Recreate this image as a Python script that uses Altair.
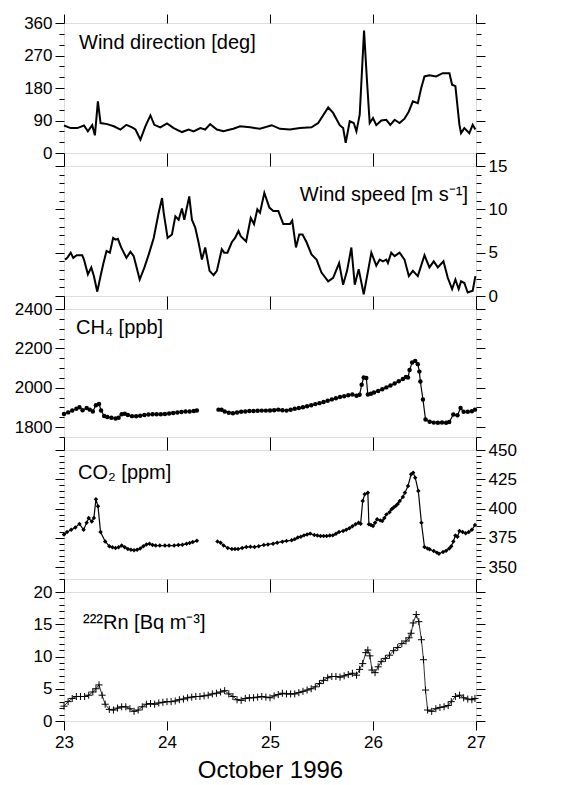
import altair as alt
import pandas as pd

# ---------------- data ----------------
wd_day = [23.000, 23.065, 23.129, 23.194, 23.232, 23.274, 23.300, 23.329, 23.355, 23.419, 23.484, 23.548,
          23.606, 23.661, 23.694, 23.742, 23.790, 23.839, 23.877, 23.935, 24.000, 24.065, 24.145, 24.210,
          24.258, 24.323, 24.371, 24.419, 24.484, 24.548, 24.613, 24.645, 24.710, 24.806, 24.903, 25.016,
          25.097, 25.194, 25.290, 25.403, 25.468, 25.565, 25.613, 25.677, 25.710, 25.735, 25.774, 25.813,
          25.839, 25.871, 25.913, 25.942, 25.968, 26.000, 26.032, 26.081, 26.129, 26.168, 26.210, 26.258,
          26.306, 26.348, 26.387, 26.435, 26.468, 26.500, 26.548, 26.613, 26.677, 26.742, 26.768, 26.800,
          26.839, 26.855, 26.887, 26.935, 26.968, 26.994]
wd_val = [76, 69, 69, 76, 60, 77, 49, 143, 83, 80, 74, 65,
          78, 71, 65, 37, 74, 104, 78, 71, 82, 69, 58, 65,
          60, 69, 65, 80, 65, 60, 65, 67, 74, 71, 67, 77,
          67, 65, 69, 71, 83, 126, 111, 77, 69, 28, 88, 83,
          60, 106, 339, 198, 83, 97, 77, 90, 92, 78, 92, 83,
          95, 115, 143, 138, 180, 212, 215, 212, 221, 221, 189, 185,
          78, 55, 69, 55, 78, 65]

ws_day = [23.010, 23.032, 23.065, 23.090, 23.123, 23.177, 23.194, 23.232, 23.265, 23.290, 23.323, 23.355,
          23.381, 23.413, 23.445, 23.477, 23.500, 23.523, 23.555, 23.606, 23.645, 23.677, 23.735, 23.781,
          23.823, 23.871, 23.919, 23.952, 23.968, 24.006, 24.048, 24.081, 24.113, 24.145, 24.168, 24.216,
          24.242, 24.274, 24.306, 24.339, 24.371, 24.413, 24.452, 24.484, 24.532, 24.555, 24.587, 24.629,
          24.661, 24.694, 24.716, 24.768, 24.813, 24.845, 24.877, 24.903, 24.945, 24.994, 25.032, 25.081,
          25.129, 25.194, 25.216, 25.252, 25.284, 25.316, 25.355, 25.403, 25.452, 25.500, 25.565, 25.613,
          25.671, 25.710, 25.748, 25.790, 25.823, 25.861, 25.910, 25.952, 25.984, 26.032, 26.065, 26.097,
          26.129, 26.145, 26.177, 26.210, 26.258, 26.306, 26.348, 26.387, 26.435, 26.500, 26.548, 26.590,
          26.629, 26.684, 26.726, 26.768, 26.800, 26.832, 26.855, 26.887, 26.919, 26.968, 26.994]
ws_val = [4.2, 4.4, 5.0, 4.4, 4.7, 4.7, 4.2, 2.5, 3.3, 2.3, 0.5, 2.3,
          3.7, 5.2, 5.0, 6.7, 6.5, 6.6, 5.6, 4.4, 5.1, 4.6, 1.9, 3.3,
          4.8, 6.7, 9.6, 11.3, 9.6, 6.7, 7.1, 9.2, 8.8, 10.1, 8.8, 11.5,
          8.8, 7.9, 6.2, 4.2, 5.6, 2.9, 2.4, 2.9, 5.4, 5.0, 5.0, 6.2,
          6.7, 7.5, 6.9, 6.3, 9.0, 8.3, 10.0, 9.6, 11.9, 10.2, 9.8, 9.8,
          8.3, 8.3, 8.7, 5.6, 7.1, 7.1, 6.2, 4.8, 4.2, 2.7, 1.7, 2.1,
          3.8, 1.3, 2.9, 5.6, 1.3, 3.1, 0.2, 2.9, 5.0, 3.5, 4.2, 4.0,
          4.2, 3.8, 5.0, 4.6, 5.0, 4.2, 2.3, 2.9, 2.3, 4.7, 3.3, 4.0,
          3.3, 4.0, 2.1, 0.8, 1.9, 0.8, 1.7, 1.5, 0.4, 0.6, 2.3]

ch4_day_a = [23.00, 23.04, 23.08, 23.12, 23.15, 23.18, 23.22, 23.25, 23.28, 23.31, 23.34, 23.36, 23.39,
             23.42, 23.46, 23.50, 23.53, 23.56, 23.59, 23.62, 23.66, 23.70, 23.74, 23.78, 23.82, 23.86,
             23.90, 23.94, 23.98, 24.02, 24.06, 24.10, 24.14, 24.18, 24.22, 24.26, 24.29]
ch4_val_a = [1867, 1875, 1885, 1893, 1901, 1886, 1897, 1889, 1880, 1911, 1918, 1885, 1857,
             1852, 1848, 1844, 1848, 1866, 1868, 1862, 1856, 1855, 1858, 1862, 1864, 1866,
             1866, 1865, 1867, 1869, 1872, 1874, 1877, 1879, 1880, 1882, 1885]
ch4_day_b = [24.50, 24.53, 24.56, 24.60, 24.64, 24.68, 24.72, 24.76, 24.80, 24.84, 24.88, 24.92, 24.96,
             25.00, 25.04, 25.08, 25.12, 25.16, 25.20, 25.24, 25.28, 25.32, 25.36, 25.40, 25.44, 25.48,
             25.52, 25.56, 25.60, 25.64, 25.68, 25.72, 25.76, 25.80, 25.84, 25.87, 25.89, 25.91, 25.935,
             25.95, 25.98, 26.01, 26.05, 26.09, 26.13, 26.17, 26.21, 26.25, 26.29, 26.32, 26.34, 26.355,
             26.38, 26.41, 26.435, 26.45, 26.46, 26.485, 26.51, 26.55, 26.59, 26.63, 26.67, 26.71, 26.74,
             26.78, 26.82, 26.85, 26.88, 26.92, 26.96, 26.99]
ch4_val_b = [1889, 1888, 1880, 1873, 1871, 1874, 1878, 1880, 1882, 1882, 1883, 1884, 1884,
             1885, 1886, 1889, 1886, 1884, 1888, 1893, 1897, 1901, 1906, 1911, 1917, 1922,
             1928, 1934, 1941, 1947, 1953, 1957, 1962, 1966, 1960, 1965, 2015, 2052, 2050,
             1966, 1970, 1976, 1984, 1993, 2002, 2012, 2022, 2033, 2045, 2055, 2052, 2090,
             2128, 2136, 2120, 2082, 2032, 1940, 1839, 1827, 1823, 1822, 1824, 1822, 1826,
             1864, 1860, 1897, 1878, 1878, 1881, 1889]

co2_day_a = [23.00, 23.03, 23.07, 23.11, 23.15, 23.19, 23.22, 23.24, 23.27, 23.29, 23.31, 23.33, 23.355,
             23.40, 23.44, 23.47, 23.50, 23.53, 23.56, 23.59, 23.62, 23.65, 23.68, 23.71, 23.74, 23.77,
             23.80, 23.83, 23.86, 23.89, 23.93, 23.98, 24.02, 24.07, 24.11, 24.15, 24.19, 24.22, 24.25, 24.29]
co2_val_a = [378, 380, 382, 384, 387, 382, 388, 392, 389, 392, 408, 402, 380,
             372, 368, 367, 366.5, 367, 368.5, 367, 365.6, 365, 364.5, 365, 366, 368,
             369.5, 370, 369, 368.5, 368.5, 368.5, 368.5, 368.5, 369, 369.3, 370, 370.7, 371.5, 372.7]
co2_day_b = [24.49, 24.52, 24.55, 24.59, 24.63, 24.66, 24.69, 24.73, 24.77, 24.81, 24.85, 24.89, 24.94,
             24.98, 25.03, 25.07, 25.12, 25.16, 25.21, 25.24, 25.27, 25.30, 25.33, 25.36, 25.39, 25.43,
             25.46, 25.49, 25.52, 25.55, 25.58, 25.61, 25.64, 25.67, 25.71, 25.74, 25.77, 25.80, 25.83,
             25.86, 25.88, 25.90, 25.92, 25.95, 25.96, 25.98, 26.00, 26.02, 26.04, 26.07, 26.09, 26.11,
             26.13, 26.16, 26.18, 26.20, 26.22, 26.24, 26.26, 26.29, 26.31, 26.34, 26.37, 26.39, 26.41,
             26.44, 26.47, 26.50, 26.53, 26.55, 26.59, 26.62, 26.64, 26.68, 26.71, 26.74, 26.76, 26.78,
             26.80, 26.82, 26.84, 26.87, 26.90, 26.93, 26.96, 26.99]
co2_val_b = [372, 371, 368.5, 366.5, 365.6, 365.5, 365.6, 366.5, 367.3, 367.5, 367.3, 368, 369,
             369.5, 370.1, 371, 371.8, 372.5, 373, 374, 375.3, 376, 377.2, 378, 378.7, 377.5,
             377, 376.7, 376.7, 376.7, 377, 377.2, 378.5, 380.1, 380.9, 382, 383.2, 385, 386.6,
             388, 387.2, 406.5, 412.2, 413.6, 386.6, 386, 385.2, 388, 390.9, 390, 389.5, 392,
             395.1, 397, 399.4, 401, 402.3, 404, 406.5, 410, 413.6, 419.3, 429.3, 430.7, 426.4,
             415, 388, 367.3, 366, 365.3, 363.9, 362.5, 361.6, 363, 364, 366, 368, 372,
             377, 376, 381, 380, 379, 380, 382, 386]

rn_day = [23.00, 23.04, 23.08, 23.12, 23.16, 23.20, 23.24, 23.28, 23.31, 23.34, 23.37, 23.40, 23.44,
          23.48, 23.52, 23.56, 23.60, 23.64, 23.68, 23.72, 23.76, 23.80, 23.84, 23.88, 23.92, 23.96,
          24.00, 24.04, 24.08, 24.12, 24.16, 24.20, 24.24, 24.28, 24.32, 24.36, 24.40, 24.44, 24.48,
          24.52, 24.56, 24.60, 24.64, 24.68, 24.72, 24.76, 24.80, 24.84, 24.88, 24.92, 24.96, 25.00,
          25.04, 25.08, 25.12, 25.16, 25.20, 25.24, 25.28, 25.32, 25.36, 25.40, 25.44, 25.48, 25.52,
          25.56, 25.60, 25.64, 25.68, 25.72, 25.76, 25.80, 25.84, 25.87, 25.90, 25.93, 25.95, 25.97,
          25.99, 26.02, 26.05, 26.08, 26.12, 26.16, 26.20, 26.24, 26.28, 26.32, 26.35, 26.37, 26.39,
          26.42, 26.445, 26.47, 26.49, 26.51, 26.53, 26.57, 26.61, 26.65, 26.69, 26.73, 26.76, 26.80,
          26.84, 26.88, 26.92, 26.96, 26.99]
rn_val = [2.3, 3.0, 3.5, 3.8, 3.8, 3.8, 4.0, 4.5, 5.0, 5.6, 4.0, 2.6, 1.8,
          1.7, 2.0, 2.2, 2.2, 1.9, 1.5, 1.7, 2.2, 2.6, 2.7, 2.6, 2.8, 2.9,
          3.0, 3.0, 3.1, 3.3, 3.4, 3.6, 3.7, 3.8, 3.8, 3.9, 4.0, 4.2, 4.3,
          4.5, 4.7, 4.2, 3.8, 3.3, 3.2, 3.5, 3.6, 3.6, 3.7, 3.8, 3.7, 3.6,
          3.9, 4.1, 4.3, 4.2, 4.2, 4.2, 4.4, 4.6, 4.8, 5.0, 5.3, 5.8, 6.3,
          6.7, 6.9, 6.9, 6.8, 7.0, 7.2, 7.4, 7.1, 8.0, 8.9, 10.6, 11.0, 10.1,
          7.9, 7.5, 8.4, 9.2, 9.7, 10.2, 10.9, 11.4, 12.0, 12.4, 12.9, 13.6, 15.2,
          16.5, 15.4, 12.6, 9.5, 4.8, 1.7, 1.5, 1.9, 2.1, 2.2, 2.4, 3.0, 3.8,
          4.0, 3.6, 3.4, 3.3, 3.5]

x_ticks = [23 + 0.25 * i for i in range(17)]

# ---------------- styling ----------------
FONT = "Liberation Sans"
W = 412
LBL = 17


def cond_size(test):
    return {"condition": {"test": test, "value": 9}, "value": 5}


def x_axis(orient, labels=False, title=None):
    kw = dict(orient=orient, values=x_ticks, domain=False, grid=False,
              tickSize=cond_size("datum.value % 1 === 0"), tickColor="black",
              labels=labels, labelFlush=False, labelOverlap=False,
              labelExpr="datum.value % 1 === 0 ? datum.label : ''",
              labelFont=FONT, labelFontSize=LBL, labelColor="black", labelPadding=4,
              format="d")
    if title:
        kw.update(title=title, titleFont=FONT, titleFontSize=24, titleFontWeight="normal",
                  titleColor="black", titlePadding=8)
    else:
        kw.update(title=None)
    return alt.Axis(**kw)


def y_axis(orient, vals, major, labels):
    return alt.Axis(orient=orient, values=vals, domain=False, grid=False, title=None,
                    tickSize=cond_size(f"datum.value % {major} === 0"), tickColor="black",
                    labels=labels, labelFlush=False, labelOverlap=False,
                    labelExpr=f"datum.value % {major} === 0 ? datum.label : ''",
                    labelFont=FONT, labelFontSize=LBL, labelColor="black", labelPadding=3,
                    format="d")


def panel(df, dom, minor, major, label_side, height, marks, note, note_x, note_y,
          note_align="left", bottom_title=None, bottom_labels=False):
    vals = []
    v = dom[0] - (dom[0] % minor)
    while v <= dom[1] + 1e-9:
        if v >= dom[0] - 1e-9:
            vals.append(round(v, 6))
        v += minor
    xs = alt.Scale(domain=[23, 27], nice=False, zero=False)
    ys = alt.Scale(domain=dom, nice=False, zero=False)
    layers = []
    first = True
    for m in marks:
        if first:
            enc = dict(
                x=alt.X("day:Q", scale=xs, axis=x_axis("bottom", bottom_labels, bottom_title)),
                y=alt.Y("val:Q", scale=ys, axis=y_axis("left", vals, major, label_side == "left")),
            )
            first = False
        else:
            enc = dict(x=alt.X("day:Q", scale=xs, axis=None),
                       y=alt.Y("val:Q", scale=ys, axis=None))
        if "seg" in df.columns:
            enc["detail"] = alt.Detail("seg:N")
        layers.append(m.encode(**enc))
    # second axes (top, right)
    layers.append(
        alt.Chart(df).mark_point(opacity=0).encode(
            x=alt.X("day:Q", scale=xs, axis=x_axis("top")),
            y=alt.Y("val:Q", scale=ys, axis=y_axis("right", vals, major, label_side == "right")),
        )
    )
    txt = alt.Chart(pd.DataFrame({"t": [note]})).mark_text(
        font=FONT, fontSize=20, align=note_align, baseline="middle", color="black"
    ).encode(text="t:N", x=alt.value(note_x), y=alt.value(note_y))
    layers.append(txt)
    return alt.layer(*layers).resolve_scale(x="independent", y="independent").properties(
        width=W, height=height)


wd = pd.DataFrame({"day": wd_day, "val": wd_val})
ws = pd.DataFrame({"day": ws_day, "val": ws_val})
ch4 = pd.DataFrame({"day": ch4_day_a + ch4_day_b, "val": ch4_val_a + ch4_val_b,
                    "seg": ["a"] * len(ch4_day_a) + ["b"] * len(ch4_day_b)})
co2 = pd.DataFrame({"day": co2_day_a + co2_day_b, "val": co2_val_a + co2_val_b,
                    "seg": ["a"] * len(co2_day_a) + ["b"] * len(co2_day_b)})
rn = pd.DataFrame({"day": rn_day, "val": rn_val})

p1 = panel(wd, [0, 360], 30, 90, "left", 130,
           [alt.Chart(wd).mark_line(color="black", strokeWidth=2)],
           "Wind direction [deg]", 15, 20)
p2 = panel(ws, [0, 15], 1, 5, "right", 130,
           [alt.Chart(ws).mark_line(color="black", strokeWidth=2)],
           "Wind speed [m s\u207b\u00b9]", 404, 29, note_align="right")
p3 = panel(ch4, [1750, 2400], 50, 200, "left", 128,
           [alt.Chart(ch4).mark_line(color="black", strokeWidth=1.2),
            alt.Chart(ch4).mark_point(color="black", filled=True, opacity=1, size=20, shape="circle")],
           "CH\u2084 [ppb]", 12, 19)
p4 = panel(co2, [340, 450], 5, 25, "right", 129,
           [alt.Chart(co2).mark_line(color="black", strokeWidth=1.2),
            alt.Chart(co2).mark_point(color="black", filled=True, opacity=1, size=20, shape="diamond")],
           "CO\u2082 [ppm]", 14, 23)
p5 = panel(rn, [0, 20], 1, 5, "left", 129,
           [alt.Chart(rn).mark_line(color="black", strokeWidth=0.8),
            alt.Chart(rn).mark_point(color="black", filled=False, opacity=1, size=50, strokeWidth=1,
                                     shape="M-1,0L1,0M0,-1L0,1")],
           "\u00b2\u00b2\u00b2Rn [Bq m\u207b\u00b3]", 19, 31,
           bottom_title="October 1996", bottom_labels=True)

chart = alt.vconcat(p1, p2, p3, p4, p5, spacing=13, bounds="flush").configure_view(
    stroke="black", strokeWidth=1.8
).configure(background="white")

chart.save("out.html", embed_options={"renderer": "svg", "actions": False})
